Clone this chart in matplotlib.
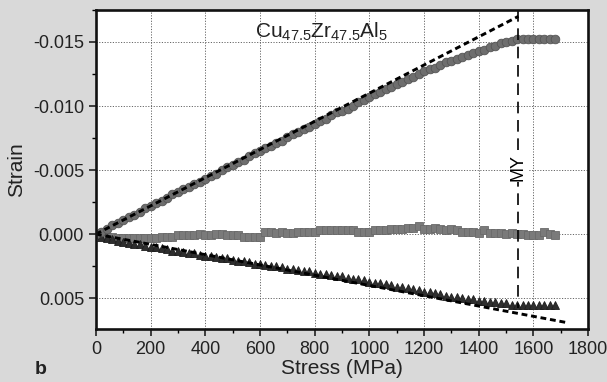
import matplotlib
matplotlib.use("Agg")
import matplotlib.pyplot as plt
from matplotlib.ticker import MultipleLocator, FuncFormatter

plt.rcParams["font.family"] = ["Liberation Sans", "DejaVu Sans"]
plt.rcParams["mathtext.fontset"] = "custom"
plt.rcParams["mathtext.rm"] = "Liberation Sans"
plt.rcParams["mathtext.it"] = "Liberation Sans"

# stress grid (MPa), one value per measured point
stress = [0, 20, 40, 60, 80, 100, 120, 140, 160, 180, 200, 220, 240, 260, 280, 300, 320, 340, 360, 380,
          400, 420, 440, 460, 480, 500, 520, 540, 560, 580, 600, 620, 640, 660, 680, 700, 720, 740, 760, 780,
          800, 820, 840, 860, 880, 900, 920, 940, 960, 980, 1000, 1020, 1040, 1060, 1080, 1100, 1120, 1140,
          1160, 1180, 1200, 1220, 1240, 1260, 1280, 1300, 1320, 1340, 1360, 1380, 1400, 1420, 1440, 1460,
          1480, 1500, 1520, 1540, 1560, 1580, 1600, 1620, 1640, 1660, 1680]
# circles: axial strain
strain_circ = [0.0, -0.0002, -0.0004, -0.0007, -0.0009, -0.0011, -0.0013, -0.0015, -0.0017, -0.0020,
               -0.0022, -0.0024, -0.0026, -0.0028, -0.0031, -0.0033, -0.0035, -0.0037, -0.0039, -0.0041,
               -0.0043, -0.0045, -0.0047, -0.0050, -0.0052, -0.0054, -0.0056, -0.0058, -0.0061, -0.0063,
               -0.0065, -0.0067, -0.0069, -0.0071, -0.0073, -0.0076, -0.0078, -0.0080, -0.0082, -0.0084,
               -0.0086, -0.0088, -0.0090, -0.0093, -0.0095, -0.0096, -0.0098, -0.0100, -0.0103, -0.0105,
               -0.0107, -0.0109, -0.0111, -0.0113, -0.0115, -0.0117, -0.0119, -0.0121, -0.0123, -0.0125,
               -0.0127, -0.0129, -0.0130, -0.0132, -0.0134, -0.0135, -0.0137, -0.0138, -0.0140, -0.0141,
               -0.0143, -0.0144, -0.0146, -0.0147, -0.0149, -0.0150, -0.0151, -0.0152, -0.0152, -0.0152,
               -0.0152, -0.0152, -0.0152, -0.0152, -0.0152]
# squares: volumetric strain
strain_sq = [0.0, 0.0001, 0.0002, 0.0002, 0.0003, 0.0003, 0.0003, 0.0003, 0.0003, 0.0003,
             0.0003, 0.0003, 0.0002, 0.0002, 0.0002, 0.0001, 0.0001, 0.0001, 0.0001, 0.0,
             0.0001, 0.0001, 0.0, 0.0, 0.0001, 0.0001, 0.0001, 0.0002, 0.0002, 0.0002,
             0.0002, -0.0002, -0.0002, -0.0001, -0.0002, -0.0001, -0.0001, -0.0002, -0.0002, -0.0002,
             -0.0002, -0.0003, -0.0003, -0.0003, -0.0003, -0.0003, -0.0003, -0.0003, -0.0002, -0.0002,
             -0.0002, -0.0003, -0.0003, -0.0003, -0.0004, -0.0004, -0.0004, -0.0005, -0.0005, -0.0006,
             -0.0004, -0.0004, -0.0005, -0.0004, -0.0003, -0.0004, -0.0003, -0.0002, -0.0002, -0.0002,
             -0.0001, -0.0003, -0.0001, -0.0001, -0.0001, 0.0, -0.0001, 0.0, 0.0, 0.0001,
             0.0001, 0.0001, -0.0002, 0.0, 0.0001]
# triangles: lateral strain
strain_tri = [0.0, 0.0002, 0.0003, 0.0004, 0.0005, 0.0006, 0.0007, 0.0008, 0.0008, 0.0009,
              0.0010, 0.0010, 0.0011, 0.0012, 0.0013, 0.0013, 0.0014, 0.0015, 0.0015, 0.0016,
              0.0017, 0.0017, 0.0018, 0.0019, 0.0019, 0.0020, 0.0021, 0.0021, 0.0022, 0.0023,
              0.0023, 0.0024, 0.0025, 0.0025, 0.0026, 0.0027, 0.0027, 0.0028, 0.0029, 0.0029,
              0.0030, 0.0031, 0.0031, 0.0032, 0.0033, 0.0033, 0.0034, 0.0035, 0.0035, 0.0036,
              0.0037, 0.0038, 0.0038, 0.0039, 0.0040, 0.0041, 0.0041, 0.0042, 0.0043, 0.0044,
              0.0045, 0.0045, 0.0046, 0.0047, 0.0048, 0.0049, 0.0049, 0.0050, 0.0051, 0.0051,
              0.0052, 0.0052, 0.0053, 0.0053, 0.0054, 0.0054, 0.0055, 0.0055, 0.0055, 0.0055,
              0.0055, 0.0055, 0.0055, 0.0055, 0.0055]
# linear fits (end points)
fit_up_x = [0, 1545]
fit_up_y = [0.0, -0.0170]
fit_lo_x = [0, 1720]
fit_lo_y = [0.0, 0.0069]
MY = 1545
MY_y = [-0.0175, 0.0058]

fig = plt.figure(figsize=(6.07, 3.82), dpi=100, facecolor="#d9d9d9")
ax = fig.add_axes([0.158, 0.139, 0.811, 0.835])
ax.set_facecolor("white")

ax.plot(stress, strain_sq, ls="none", marker="s", ms=5.4, color="#7a7a7a", mec="#6a6a6a", mew=0.6)
ax.plot(stress, strain_tri, ls="none", marker="^", ms=6.2, color="#2e2e2e", mec="#1e1e1e", mew=0.6)
ax.plot(stress, strain_circ, ls="none", marker="o", ms=6.2, color="#6e6e6e", mec="#555555", mew=0.6)
ax.plot(fit_up_x, fit_up_y, color="black", lw=2.1, dashes=(2.0, 1.3))
ax.plot(fit_lo_x, fit_lo_y, color="black", lw=2.1, dashes=(2.0, 1.3))
ax.plot([MY, MY], MY_y, color="black", lw=1.2, dashes=(7, 4))
ax.text(MY, -0.0052, "MY", rotation=90, ha="center", va="center", fontsize=13,
        bbox=dict(facecolor="white", edgecolor="none", pad=0.5))
ax.text(0.458, 0.93, r"Cu$_{47.5}$Zr$_{47.5}$Al$_5$", transform=ax.transAxes,
        ha="center", va="center", fontsize=15, color="#222222")

ax.set_xlim(0, 1800)
ax.set_ylim(0.0074, -0.0175)
ax.xaxis.set_major_locator(MultipleLocator(200))
ax.xaxis.set_minor_locator(MultipleLocator(100))
ax.yaxis.set_major_locator(MultipleLocator(0.005))
ax.yaxis.set_minor_locator(MultipleLocator(0.0025))
ax.yaxis.set_major_formatter(FuncFormatter(lambda v, p: f"{round(v, 4) + 0.0:.3f}"))
ax.grid(True, which="major", color="#666666", ls=(0, (1.2, 1.6)), lw=0.7)
ax.tick_params(which="major", direction="out", length=5, width=1.2, labelsize=13,
               colors="#222222", top=False, right=False)
ax.tick_params(which="minor", direction="out", length=3, width=1.0, top=False, right=False)
for s in ax.spines.values():
    s.set_linewidth(1.9)
    s.set_color("#111111")

ax.set_xlabel("Stress (MPa)", fontsize=15, color="#222222", labelpad=1)
ax.set_ylabel("Strain", fontsize=15, color="#222222", labelpad=5)
fig.text(0.057, 0.01, "b", fontsize=14, fontweight="bold", color="#222222", ha="left", va="bottom")

fig.savefig("out.png", dpi=100, facecolor=fig.get_facecolor())
